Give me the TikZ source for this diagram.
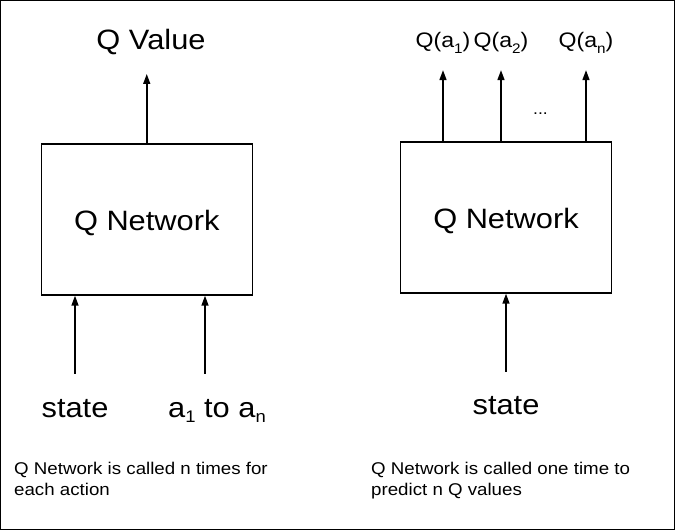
\documentclass[tikz,border=0pt]{standalone}
\usepackage{fontspec}
\setmainfont{Liberation Sans}[FakeStretch=1.1]
\usepackage{graphicx}
\usetikzlibrary{arrows.meta}

% low, small index as in a_1 ... a_n: #1 drop, #2 scale
\newcommand{\lowsub}[3]{\raisebox{-#1}{\scalebox{#2}{#3}}}

\begin{document}
\begin{tikzpicture}[x=1pt, y=-1pt,
  netbox/.style={draw, line width=1.4pt, minimum width=211pt, minimum height=151pt,
    inner sep=0pt, text height=24pt, text depth=1.5pt, font=\fontsize{28}{34}\selectfont},
  biglabel/.style={inner sep=0pt, anchor=base, font=\fontsize{28}{34}\selectfont},
  outlabel/.style={inner sep=0pt, anchor=base, font=\fontsize{21}{25}\selectfont},
  note/.style={inner sep=0pt, anchor=north west, align=left,
    font=\fontsize{17}{21}\selectfont},
  arr/.style={line width=1.5pt, -{Triangle[length=10pt,width=7pt]}}]

% Frame
\useasboundingbox (0,0) rectangle (675,530);
\draw[line width=1pt] (0.5,0.5) rectangle (674.5,529.5);

% Left: network called once per action
\node[netbox] (leftnet) at (146.75,219.5) {Q Network};
\node[biglabel] (qval) at (151,49) {Q Value};
\node[biglabel] (stateL) at (75,417) {state};
\node[biglabel, anchor=base west] (actions) at (168,417)
  {a\lowsub{0.21em}{0.6}{1} to a\lowsub{0.21em}{0.6}{n}};

\draw[arr, shorten >=19.5pt] (leftnet.north) -- (leftnet.north |- qval.south);
\draw[arr, shorten <=25pt] (stateL.north) -- (stateL.north |- leftnet.south);
\draw[arr, shorten <=25pt] ([xshift=37pt]actions.north west)
  -- ([xshift=37pt]actions.north west |- leftnet.south);

% Right: network called once for all actions
\node[netbox] (rightnet) at (506,217.5) {Q Network};
\node[biglabel] (stateR) at (506,414) {state};
\draw[arr, shorten <=24pt] (stateR.north) -- (stateR.north |- rightnet.south);

\foreach \name/\x/\idx in {qa1/443/1, qa2/501/2, qan/586/n} {
  \node[outlabel] (\name) at (\x,47) {Q(a\lowsub{0.33em}{0.66}{\idx})};
  \draw[arr, shorten >=16pt] (\name.south |- rightnet.north) -- (\name.south);
}
\node[inner sep=0pt, anchor=base, font=\fontsize{16}{18}\selectfont] (dots) at (540.5,114) {...};

% Notes
\node[note] (noteL) at (14,461.5) {Q Network is called n times for\\each action};
\node[note] (noteR) at (371,461.5) {Q Network is called one time to\\predict n Q values};

\end{tikzpicture}
\end{document}
